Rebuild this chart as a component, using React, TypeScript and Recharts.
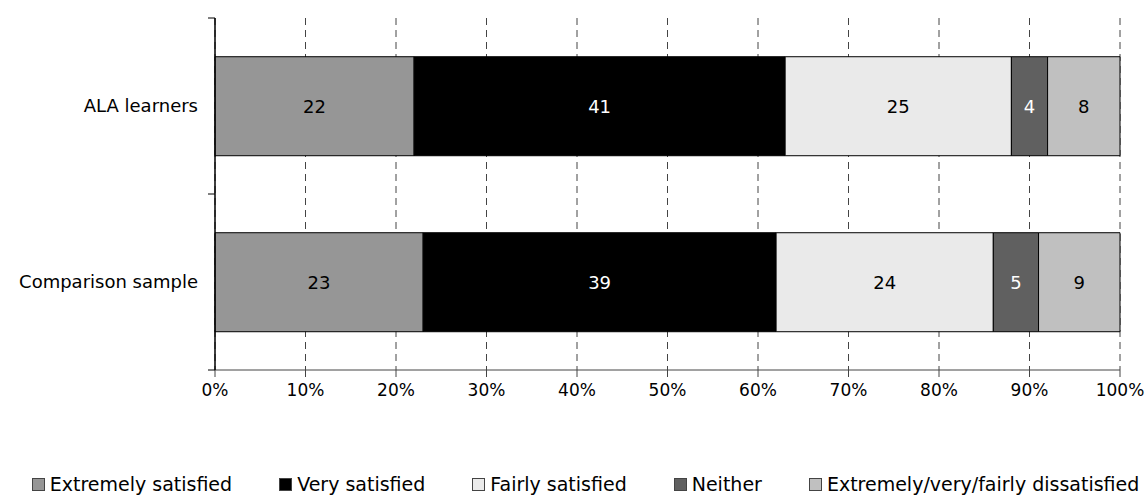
import React from 'react';
import { BarChart, Bar, XAxis, YAxis, CartesianGrid, Legend, LabelList } from 'recharts';

const categories = ['ALA learners', 'Comparison sample'];
const extremelySatisfied = [22, 23];
const verySatisfied = [41, 39];
const fairlySatisfied = [25, 24];
const neither = [4, 5];
const dissatisfied = [8, 9];
const xTicks = [0, 10, 20, 30, 40, 50, 60, 70, 80, 90, 100];

const series = [
  { key: 'es', name: 'Extremely satisfied', values: extremelySatisfied, color: '#969696', label: '#000000' },
  { key: 'vs', name: 'Very satisfied', values: verySatisfied, color: '#000000', label: '#ffffff' },
  { key: 'fs', name: 'Fairly satisfied', values: fairlySatisfied, color: '#EAEAEA', label: '#000000' },
  { key: 'ne', name: 'Neither', values: neither, color: '#606060', label: '#ffffff' },
  { key: 'ds', name: 'Extremely/very/fairly dissatisfied', values: dissatisfied, color: '#C0C0C0', label: '#000000' },
];

const data = categories.map((c, i) => {
  const row: Record<string, string | number> = { category: c };
  series.forEach((s) => {
    row[s.key] = s.values[i];
  });
  return row;
});

const FONT = '"DejaVu Sans", Verdana, sans-serif';

const CategoryTick = (props: any) => {
  const { x, y, payload, index, visibleTicksCount } = props;
  const half = payload && payload.offset ? payload.offset : 0;
  const axisX = x + 17;
  return (
    <g>
      <line x1={axisX - 7} x2={axisX} y1={y - half} y2={y - half} stroke="#000" />
      {index === visibleTicksCount - 1 && (
        <line x1={axisX - 7} x2={axisX} y1={y + half} y2={y + half} stroke="#000" />
      )}
      <text x={x} y={y} dy="0.355em" textAnchor="end" fill="#000" fontSize={18} fontFamily={FONT}>
        {payload.value}
      </text>
    </g>
  );
};

const LegendContent = () => (
  <div
    style={{
      display: 'flex',
      justifyContent: 'center',
      alignItems: 'center',
      height: 24,
      paddingLeft: 26,
      fontFamily: FONT,
      fontSize: 19,
      color: '#000',
    }}
  >
    {series.map((s, i) => (
      <div key={s.key} style={{ display: 'flex', alignItems: 'center', marginLeft: i === 0 ? 0 : 47 }}>
        <span
          style={{
            display: 'inline-block',
            width: 11,
            height: 11,
            background: s.color,
            border: '1px solid #444',
            marginRight: 5,
          }}
        />
        <span>{s.name}</span>
      </div>
    ))}
  </div>
);

export default function App() {
  return (
    <div style={{ position: 'absolute', left: 0, top: 0, width: 1145, height: 498, background: '#fff' }}>
      <BarChart
        width={1145}
        height={498}
        data={data}
        layout="vertical"
        margin={{ top: 18, right: 25, bottom: 74, left: 0 }}
        barCategoryGap="22%"
      >
        <CartesianGrid horizontal={false} stroke="#444" strokeDasharray="7 5" />
        <XAxis
          type="number"
          domain={[0, 100]}
          ticks={xTicks}
          tickFormatter={(v: number) => `${v}%`}
          axisLine={{ stroke: '#444' }}
          tickLine={{ stroke: '#444' }}
          tickSize={7}
          tickMargin={7}
          height={30}
          interval={0}
          tick={{ fill: '#000', fontSize: 17, fontFamily: FONT }}
        />
        <YAxis
          type="category"
          dataKey="category"
          width={215}
          axisLine={{ stroke: '#000', strokeWidth: 1.5 }}
          tickLine={false}
          tickSize={7}
          tickMargin={10}
          tick={<CategoryTick />}
        />
        {series.map((s) => (
          <Bar
            key={s.key}
            dataKey={s.key}
            name={s.name}
            stackId="a"
            fill={s.color}
            stroke="#000"
            strokeWidth={1}
            isAnimationActive={false}
          >
            <LabelList dataKey={s.key} position="center" fill={s.label} fontSize={18} fontFamily={FONT} />
          </Bar>
        ))}
        <Legend
          verticalAlign="bottom"
          content={<LegendContent />}
          wrapperStyle={{ top: 472, bottom: 'auto', left: 0, width: 1145 }}
        />
      </BarChart>
    </div>
  );
}
